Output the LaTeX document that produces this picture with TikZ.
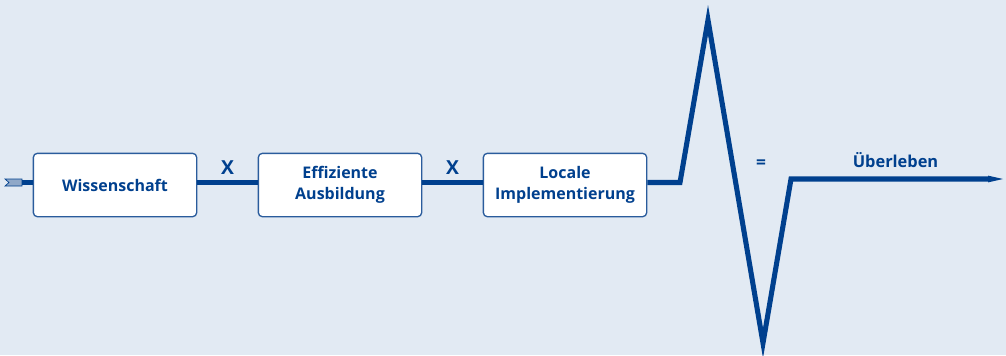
\documentclass[tikz,border=0pt]{standalone}
\usepackage{fontspec}
\setmainfont{Open Sans}
\definecolor{bg}{HTML}{E2EAF3}
\definecolor{dblue}{HTML}{00408E}
\definecolor{boxline}{HTML}{2A5C9C}
\definecolor{tailc}{HTML}{8FA8C8}
\begin{document}
\begin{tikzpicture}[x=0.75pt,y=-0.75pt,
  stagebox/.style={draw=boxline,line width=1pt,fill=white,rounded corners=3pt,
    minimum width=122.5pt,minimum height=47.5pt,inner sep=0pt,align=center,
    font=\bfseries\fontsize{12}{15.5}\selectfont,text=dblue},
  mainline/.style={draw=dblue,line width=3.8pt,line join=miter},
  lbl/.style={font=\bfseries\fontsize{12.3}{14}\selectfont,text=dblue,inner sep=0pt},
  oplbl/.style={font=\bfseries\fontsize{14.5}{16}\selectfont,text=dblue,inner sep=0pt}]
\fill[bg] (0,0) rectangle (1006,355);
\useasboundingbox (0,0) rectangle (1006,355);
% tail
\coordinate (a0) at (22,182.5);
\fill[tailc,draw=dblue,line width=0.5pt] (5,179) -- (22,179) -- (22,186) -- (5,186) -- (9,182.5) -- cycle;
% boxes
\node[stagebox] (w) at (115,185) {Wissenschaft};
\node[stagebox] (e) at (340,185) {Effiziente\\Ausbildung};
\node[stagebox] (l) at (565,185) {Locale\\Implementierung};
% connectors
\draw[mainline] (a0) -- (w.west |- a0);
\draw[mainline] (w.east |- a0) -- (e.west |- a0);
\draw[mainline] (e.east |- a0) -- (l.west |- a0);
\coordinate (k1) at (680,182.5);
\coordinate (pk) at (708,20);
\coordinate (vl) at (763,343);
\coordinate (k2) at (791,179);
\coordinate (endp) at (988,179);
\coordinate (tip) at (1003,179);
\draw[mainline] (l.east |- a0) -- (k1) -- (pk) -- (vl) -- (k2) -- (endp);
\fill[dblue] (988,175.6) -- (tip) -- (988,182.4) -- cycle;
% labels
\node[oplbl] (x1) at (227.5,167.5) {X};
\node[oplbl] (x2) at (452.5,167.5) {X};
\node[font=\bfseries\fontsize{13}{14}\selectfont,text=dblue,inner sep=0pt] (eq) at (761,164) {=};
\node[lbl] (ub) at (895.5,160.5) {Überleben};
\end{tikzpicture}
\end{document}
